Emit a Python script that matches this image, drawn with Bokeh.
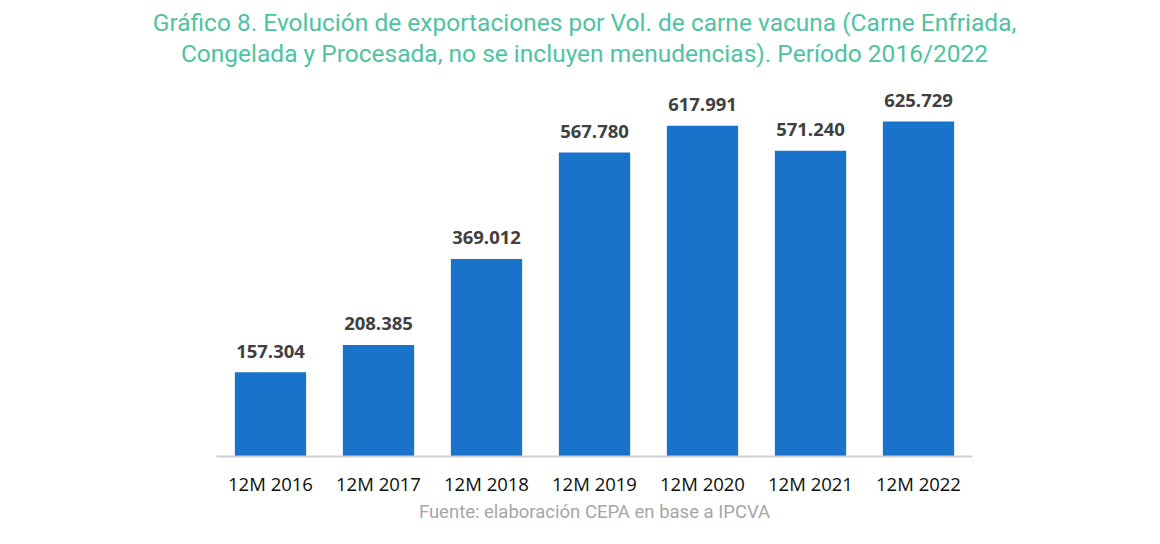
from bokeh.plotting import figure
from bokeh.models import ColumnDataSource, LabelSet, Label, FactorRange, Range1d
from bokeh.core.properties import value
from bokeh.embed import file_html
from bokeh.resources import INLINE

categories = ["12M 2016", "12M 2017", "12M 2018", "12M 2019", "12M 2020", "12M 2021", "12M 2022"]
values = [157304, 208385, 369012, 567780, 617991, 571240, 625729]
value_labels = ["157.304", "208.385", "369.012", "567.780", "617.991", "571.240", "625.729"]

title_lines = [
    "Gráfico 8. Evolución de exportaciones por Vol. de carne vacuna (Carne Enfriada,",
    "Congelada y Procesada, no se incluyen menudencias). Período 2016/2022",
]
source_text = "Fuente: elaboración CEPA en base a IPCVA"

W, H = 1152, 544
cat_px = 108
cats_left = 216
cats_right = cats_left + cat_px * len(categories)  # 972
pad_px = W - cats_right  # 180
frame_left = cats_left - pad_px  # 36
axis_y = 456
k = 625729 / 335.0  # data units per pixel
y_end = axis_y * k

src = ColumnDataSource(dict(cat=categories, val=values, lab=value_labels))

xr = FactorRange(*categories, factor_padding=0, range_padding=pad_px / cat_px,
                 range_padding_units="absolute")
p = figure(x_range=xr, y_range=Range1d(0, y_end),
           width=W, height=H, output_backend="svg", toolbar_location=None,
           min_border_left=int(frame_left), min_border_right=0, min_border_top=0,
           min_border_bottom=int(H - axis_y))
p.outline_line_color = None
p.xgrid.grid_line_color = None
p.ygrid.grid_line_color = None
p.yaxis.visible = False
p.background_fill_color = "white"
p.border_fill_color = "white"

p.vbar(x="cat", top="val", width=0.66, source=src, fill_color="#1973CA", line_color=None)

labels = LabelSet(x="cat", y="val", text="lab", source=src, text_align="center",
                  text_baseline="middle", y_offset=21, text_font=value("Open Sans"),
                  text_font_style="bold", text_font_size="18.5px", text_color="#404040")
p.add_layout(labels)

ax = p.xaxis[0]
ax.bounds = (0, len(categories))
ax.axis_line_color = "#d0d0d0"
ax.axis_line_width = 2
ax.major_tick_line_color = None
ax.minor_tick_line_color = None
ax.major_label_text_font = "Open Sans"
ax.major_label_text_font_size = "18.5px"
ax.major_label_text_color = "#0d0d0d"
ax.major_label_standoff = 8
ax.axis_label = source_text
ax.axis_label_text_font = "Roboto"
ax.axis_label_text_font_style = "normal"
ax.axis_label_text_font_size = "18.5px"
ax.axis_label_text_color = "#A6A6A6"
ax.axis_label_standoff = 2


def xd(px):
    return (px - cats_left) / cat_px


def yd(py):
    return (axis_y - py) * k


for line, py in zip(title_lines, [22, 53]):
    p.add_layout(Label(x=xd(584), y=yd(py), text=line, text_align="center",
                       text_baseline="middle", text_font="Roboto", text_font_size="24.5px",
                       text_color="#4FC3A1"))

open("out.html", "w").write(file_html(p, INLINE))
